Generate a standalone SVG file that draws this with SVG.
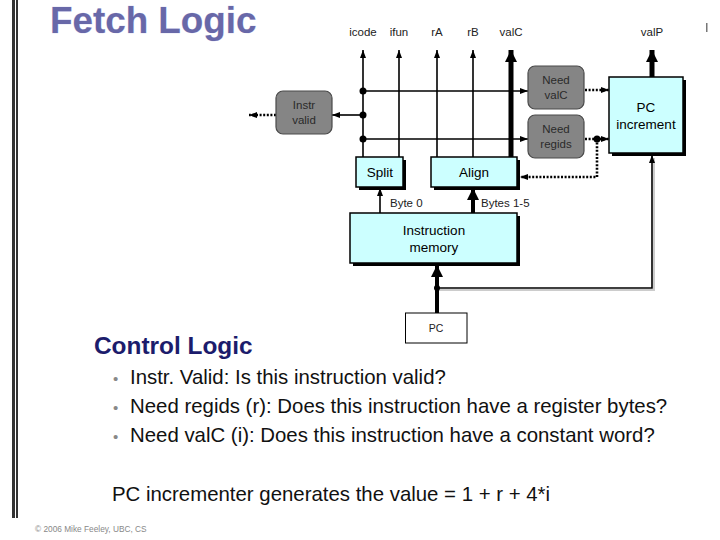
<svg xmlns="http://www.w3.org/2000/svg" width="720" height="540" viewBox="0 0 720 540">
<defs>
<style>
.lbl{font-family:"Liberation Sans",Arial,sans-serif;font-size:11.5px;fill:#222}
.box{fill:#ccffff;stroke:#000;stroke-width:1.5}
.shd{fill:#000}
.gbox{fill:#858585;stroke:#4a4a4a;stroke-width:1.2}
.gt{font-family:"Liberation Sans",Arial,sans-serif;font-size:11.5px;fill:#2a2a2a;text-anchor:middle}
.bt{font-family:"Liberation Sans",Arial,sans-serif;font-size:13.5px;fill:#000;text-anchor:middle}
.w{stroke:#000;stroke-width:1.6;fill:none}
.wt{stroke:#000;stroke-width:5;fill:none}
.dot{stroke:#000;stroke-width:2.6;stroke-dasharray:2,1.6;fill:none}
.body{font-family:"Liberation Sans",Arial,sans-serif;font-size:20.4px;fill:#111}
</style>
<marker id="a" viewBox="0 0 8 6" refX="8" refY="3" markerWidth="8" markerHeight="6" markerUnits="userSpaceOnUse" orient="auto"><path d="M0,0L8,3L0,6z" fill="#000"/></marker>
<marker id="A" viewBox="0 0 12 12" refX="12" refY="6" markerWidth="12" markerHeight="12" markerUnits="userSpaceOnUse" orient="auto"><path d="M0,0L12,6L0,12z" fill="#000"/></marker>
</defs>
<rect width="720" height="540" fill="#fff"/>
<!-- left border -->
<rect x="12" y="0" width="3" height="518" fill="#333"/>
<rect x="16" y="0" width="2" height="518" fill="#333"/>
<rect x="706" y="23" width="1.5" height="9" fill="#777"/>
<!-- title -->
<text x="50" y="33" font-family="'Liberation Sans',Arial,sans-serif" font-size="36.8" font-weight="bold" fill="#6868a8" stroke="#d4d4f0" stroke-width="0.6" paint-order="stroke">Fetch Logic</text>
<!-- top labels -->
<g id="labels">
<text class="lbl" x="363" y="36" text-anchor="middle">icode</text>
<text class="lbl" x="399" y="36" text-anchor="middle">ifun</text>
<text class="lbl" x="437" y="36" text-anchor="middle">rA</text>
<text class="lbl" x="473" y="36" text-anchor="middle">rB</text>
<text class="lbl" x="511" y="36" text-anchor="middle">valC</text>
<text class="lbl" x="652" y="36" text-anchor="middle">valP</text>
</g>
<!-- connectors -->
<g id="connectors">
<line class="w" x1="363" y1="157" x2="363" y2="50" marker-end="url(#a)"/>
<line class="w" x1="399" y1="157" x2="399" y2="50" marker-end="url(#a)"/>
<line class="w" x1="437" y1="157" x2="437" y2="50" marker-end="url(#a)"/>
<line class="w" x1="473" y1="157" x2="473" y2="50" marker-end="url(#a)"/>
<line class="wt" x1="511" y1="157" x2="511" y2="50" marker-end="url(#A)"/>
<line class="w" x1="363" y1="91" x2="528" y2="91" marker-end="url(#a)"/>
<line class="w" x1="363" y1="139" x2="528" y2="139" marker-end="url(#a)"/>
<line class="w" x1="363" y1="115" x2="332" y2="115" marker-end="url(#a)"/>
<circle cx="363" cy="91" r="3.5"/>
<circle cx="363" cy="115" r="3.5"/>
<circle cx="363" cy="139" r="3.5"/>
<line class="dot" x1="276" y1="115" x2="249" y2="115" marker-end="url(#a)"/>
<line class="dot" x1="585" y1="90" x2="609" y2="90" marker-end="url(#a)"/>
<line class="dot" x1="585" y1="139" x2="609" y2="139" marker-end="url(#a)"/>
<polyline class="dot" points="597,139 597,177 520,177" marker-end="url(#a)"/>
<circle cx="597" cy="139" r="3.5"/>
<line class="wt" x1="652" y1="77" x2="652" y2="50" marker-end="url(#A)"/>
<line class="w" x1="380" y1="213" x2="380" y2="188" marker-end="url(#a)"/>
<line stroke="#000" stroke-width="4" x1="473" y1="213" x2="473" y2="188" marker-end="url(#A)"/>
<polyline points="439,290 654,290 654,158" stroke="#ccc" stroke-width="2" fill="none"/>
<polyline points="437,288 652,288 652,155" class="w" stroke-width="2" marker-end="url(#a)"/>
<line stroke="#000" stroke-width="4" x1="437" y1="313" x2="437" y2="265" marker-end="url(#A)"/>
<circle cx="437" cy="288" r="3"/>
</g>
<!-- nodes -->
<g id="instr-valid">
<rect class="gbox" x="276" y="91" width="56" height="43" rx="7"/>
<text class="gt" x="304" y="109">Instr</text>
<text class="gt" x="304" y="124">valid</text>
</g>
<g id="need-valc">
<rect class="gbox" x="528" y="66" width="56" height="43" rx="7"/>
<text class="gt" x="556" y="84">Need</text>
<text class="gt" x="556" y="99">valC</text>
</g>
<g id="need-regids">
<rect class="gbox" x="528" y="115" width="56" height="43" rx="7"/>
<text class="gt" x="556" y="133">Need</text>
<text class="gt" x="556" y="148">regids</text>
</g>
<g id="pc-increment">
<rect class="shd" x="612" y="80" width="74" height="76"/>
<rect class="box" x="609" y="77" width="74" height="76"/>
<text class="bt" x="646" y="112">PC</text>
<text class="bt" x="646" y="129">increment</text>
</g>
<g id="split">
<rect class="shd" x="359" y="160" width="47" height="30"/>
<rect class="box" x="356" y="157" width="47" height="30"/>
<text class="bt" x="380" y="177">Split</text>
</g>
<g id="align">
<rect class="shd" x="434" y="160" width="86" height="30"/>
<rect class="box" x="431" y="157" width="86" height="30"/>
<text class="bt" x="474" y="177">Align</text>
</g>
<text class="lbl" x="390" y="207" font-size="11">Byte 0</text>
<text class="lbl" x="481" y="207" font-size="11">Bytes 1-5</text>
<g id="instruction-memory">
<rect class="shd" x="353" y="216" width="167" height="50"/>
<rect class="box" x="350" y="213" width="167" height="50"/>
<text class="bt" x="434" y="235">Instruction</text>
<text class="bt" x="434" y="252">memory</text>
</g>
<g id="pc">
<rect x="405.5" y="313" width="61.5" height="30" fill="#fff" stroke="#000" stroke-width="1"/>
<text x="436" y="332" text-anchor="middle" font-family="'Liberation Sans',Arial,sans-serif" font-size="10.5" fill="#222">PC</text>
</g>
<!-- text -->
<text x="94" y="354" font-family="'Liberation Sans',Arial,sans-serif" font-size="24.4" font-weight="bold" fill="#1c1c6c">Control Logic</text>
<g class="body">
<text x="113" y="384" fill="#888" font-size="15">•</text>
<text x="130" y="384">Instr. Valid: Is this instruction valid?</text>
<text x="113" y="413" fill="#888" font-size="15">•</text>
<text x="130" y="413">Need regids (r): Does this instruction have a register bytes?</text>
<text x="113" y="442" fill="#888" font-size="15">•</text>
<text x="130" y="442">Need valC (i): Does this instruction have a constant word?</text>
<text x="112" y="501">PC incrementer generates the value = 1 + r + 4*i</text>
</g>
<text x="35" y="532" font-family="'Liberation Sans',Arial,sans-serif" font-size="8.3" fill="#888">© 2006 Mike Feeley, UBC, CS</text>
</svg>
